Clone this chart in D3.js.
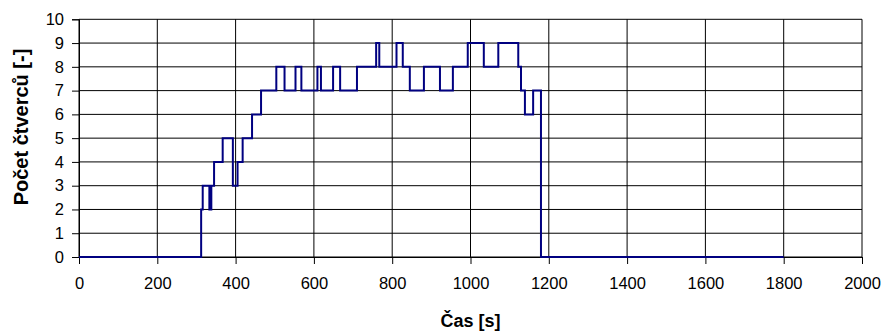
<!DOCTYPE html>
<html>
<head>
<meta charset="utf-8">
<script src="https://cdn.jsdelivr.net/npm/d3@7"></script>
<style>
  html, body { margin: 0; padding: 0; background: #fff; }
  svg { display: block; }
  text { font-family: Arial, "Liberation Sans", sans-serif; fill: #000; }
</style>
</head>
<body>
<svg id="chart" width="887" height="336"></svg>
<script>
// Time of each change [s] and the count that holds from that time on
const time  = [0, 312, 316, 333, 338, 345, 367, 393, 405, 418,
               442, 465, 504, 525, 553, 568, 609, 618, 649, 667,
               710, 759, 767, 811, 827, 845, 881, 922, 955, 993,
               1034, 1071, 1122, 1129, 1139, 1160, 1180, 1800];
const count = [0, 2, 3, 2, 3, 4, 5, 3, 4, 5,
               6, 7, 8, 7, 8, 7, 8, 7, 8, 7,
               8, 9, 8, 9, 8, 7, 8, 7, 8, 9,
               8, 9, 8, 7, 6, 7, 0, 0];

const xTicks = [0, 200, 400, 600, 800, 1000, 1200, 1400, 1600, 1800, 2000];
const yTicks = [0, 1, 2, 3, 4, 5, 6, 7, 8, 9, 10];
const xTitle = "Čas [s]";
const yTitle = "Počet čtverců [-]";

const svg = d3.select("#chart");
const plot = { left: 79, right: 862, top: 19.3, bottom: 257 };

const x = d3.scaleLinear().domain([0, 2000]).range([plot.left, plot.right]);
const y = d3.scaleLinear().domain([0, 10]).range([plot.bottom, plot.top]);

// grid
const grid = svg.append("g");
grid.selectAll("line.h").data(yTicks).join("line")
  .attr("class", "h")
  .attr("x1", plot.left).attr("x2", plot.right)
  .attr("y1", d => y(d)).attr("y2", d => y(d))
  .attr("stroke", "#000").attr("stroke-width", 1);
grid.selectAll("line.v").data(xTicks).join("line")
  .attr("class", "v")
  .attr("y1", plot.top).attr("y2", plot.bottom)
  .attr("x1", d => x(d)).attr("x2", d => x(d))
  .attr("stroke", "#000").attr("stroke-width", 1);

// axes
const xAxis = svg.append("g")
  .attr("transform", `translate(0,${plot.bottom})`)
  .call(d3.axisBottom(x).tickValues(xTicks).tickSize(7).tickPadding(13).tickFormat(d3.format("d")));
const yAxis = svg.append("g")
  .attr("transform", `translate(${plot.left},0)`)
  .call(d3.axisLeft(y).tickValues(yTicks).tickSize(7).tickPadding(8).tickFormat(d3.format("d")));
[xAxis, yAxis].forEach(a => {
  a.selectAll("path").attr("stroke", "#000");
  a.selectAll("line").attr("stroke", "#000");
  a.selectAll("text").attr("font-size", 16.5).attr("font-family", "Arial, 'Liberation Sans', sans-serif").attr("fill", "#000");
});

// data line
const pts = time.map((t, i) => [t, count[i]]);
svg.append("path")
  .datum(pts)
  .attr("fill", "none")
  .attr("stroke", "#000080")
  .attr("stroke-width", 2)
  .attr("d", d3.line().x(d => x(d[0])).y(d => y(d[1])).curve(d3.curveStepAfter));

// axis titles
svg.append("text")
  .attr("x", (plot.left + plot.right) / 2).attr("y", 327)
  .attr("text-anchor", "middle")
  .attr("font-size", 18).attr("font-weight", "bold")
  .text(xTitle);
svg.append("text")
  .attr("transform", "translate(28,127) rotate(-90)")
  .attr("text-anchor", "middle")
  .attr("font-size", 20).attr("font-weight", "bold")
  .text(yTitle);
</script>
</body>
</html>
